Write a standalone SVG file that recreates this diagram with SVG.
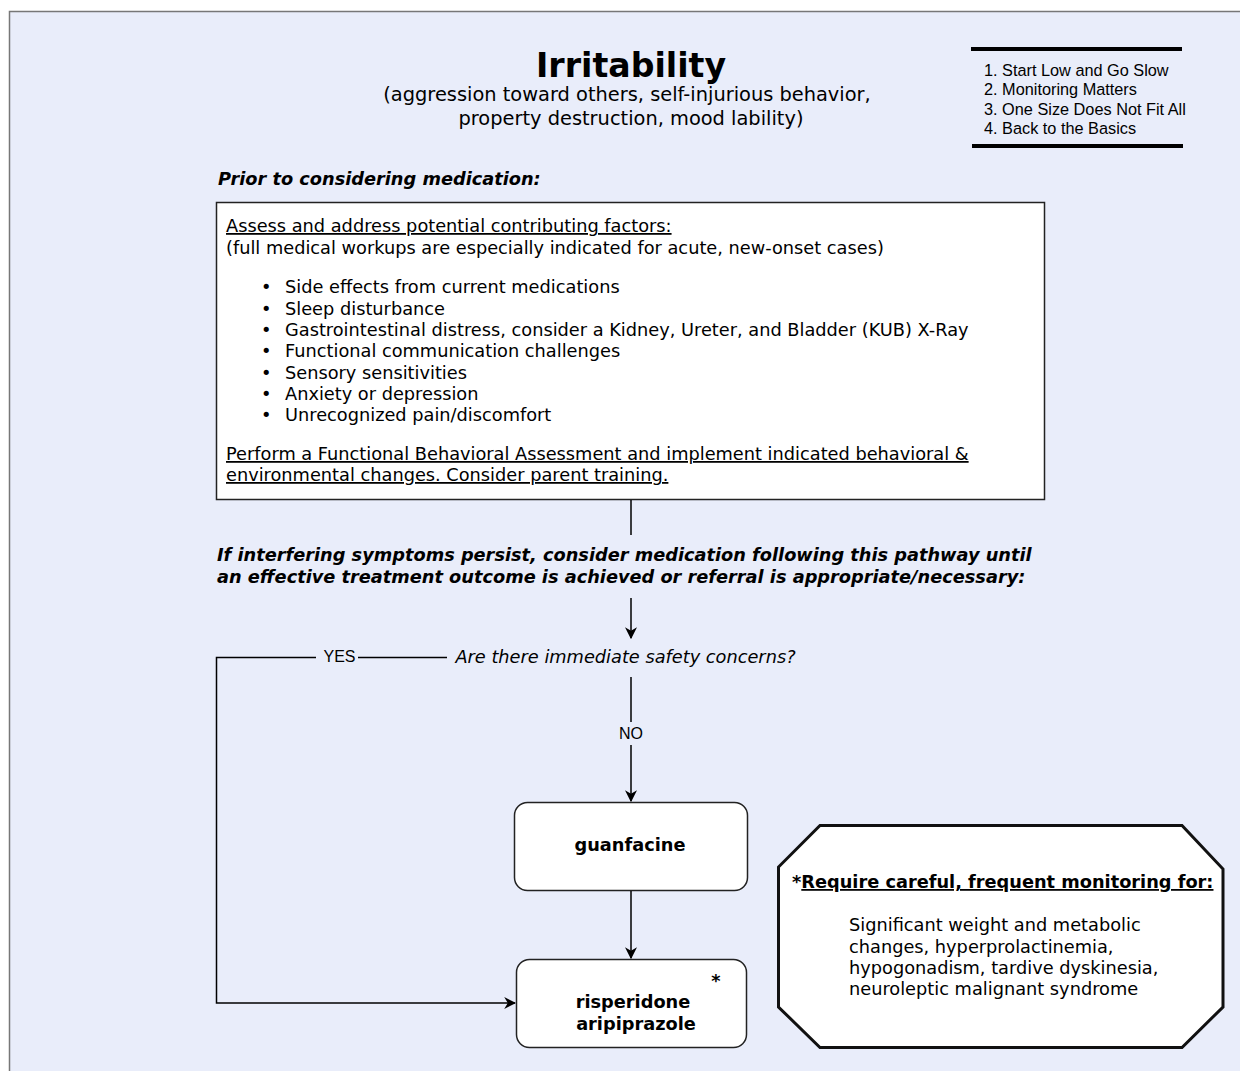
<svg xmlns="http://www.w3.org/2000/svg" width="1240" height="1071" viewBox="0 0 1240 1071">
<defs>
<style>
.v{font-family:"DejaVu Sans",Verdana,sans-serif;fill:#000;font-size:17.75px}
.a{font-family:"Liberation Sans",Arial,sans-serif;fill:#000}
.b{font-weight:bold}
.i{font-style:italic}
.u{text-decoration:underline}
.ln{fill:none;stroke:#000;stroke-width:1.5}
.box{fill:#fff;stroke:#222;stroke-width:1.5}
</style>
<marker id="ah" viewBox="0 0 10 10" refX="9" refY="5" markerWidth="12" markerHeight="12" markerUnits="userSpaceOnUse" orient="auto">
<path d="M0,0 L10,5 L0,10 L3,5 z" fill="#000"/>
</marker>
</defs>
<rect x="0" y="0" width="1240" height="1071" fill="#fff"/>
<rect x="9.5" y="11.5" width="1240" height="1070" fill="#E9EDFA" stroke="#777" stroke-width="1.5"/>

<g id="title">
<text class="v b" x="631" y="77" style="font-size:33.2px" text-anchor="middle">Irritability</text>
<text class="v" x="627" y="101" style="font-size:19.4px" text-anchor="middle">(aggression toward others, self-injurious behavior,</text>
<text class="v" x="631" y="125" style="font-size:19.4px" text-anchor="middle">property destruction, mood lability)</text>
</g>

<g id="principles">
<line x1="971" y1="49" x2="1182" y2="49" stroke="#000" stroke-width="4"/>
<line x1="972" y1="146" x2="1183" y2="146" stroke="#000" stroke-width="4"/>
<text class="a" x="984" y="76" font-size="16.3">1. Start Low and Go Slow</text>
<text class="a" x="984" y="95" font-size="16.3">2. Monitoring Matters</text>
<text class="a" x="984" y="115" font-size="16.3">3. One Size Does Not Fit All</text>
<text class="a" x="984" y="134" font-size="16.3">4. Back to the Basics</text>
</g>

<g id="prior">
<text class="v b i" x="218" y="185">Prior to considering medication:</text>
</g>

<g id="assess">
<rect class="box" x="216.5" y="202.5" width="828" height="297"/>
<text class="v u" x="226" y="232">Assess and address potential contributing factors:</text>
<text class="v" x="226" y="254">(full medical workups are especially indicated for acute, new-onset cases)</text>
<text class="v" x="261" y="293">•</text><text class="v" x="285" y="293">Side effects from current medications</text>
<text class="v" x="261" y="315">•</text><text class="v" x="285" y="315">Sleep disturbance</text>
<text class="v" x="261" y="336">•</text><text class="v" x="285" y="336">Gastrointestinal distress, consider a Kidney, Ureter, and Bladder (KUB) X-Ray</text>
<text class="v" x="261" y="357">•</text><text class="v" x="285" y="357">Functional communication challenges</text>
<text class="v" x="261" y="379">•</text><text class="v" x="285" y="379">Sensory sensitivities</text>
<text class="v" x="261" y="400">•</text><text class="v" x="285" y="400">Anxiety or depression</text>
<text class="v" x="261" y="421">•</text><text class="v" x="285" y="421">Unrecognized pain/discomfort</text>
<text class="v u" x="226" y="460">Perform a Functional Behavioral Assessment and implement indicated behavioral &amp;</text>
<text class="v u" x="226" y="481">environmental changes. Consider parent training.</text>
</g>

<g id="persist">
<text class="v b i" x="217" y="561">If interfering symptoms persist, consider medication following this pathway until</text>
<text class="v b i" x="217" y="583">an effective treatment outcome is achieved or referral is appropriate/necessary:</text>
</g>

<g id="question">
<text class="v i" x="625.5" y="663" text-anchor="middle">Are there immediate safety concerns?</text>
</g>

<g id="guanfacine">
<rect class="box" x="514.5" y="802.5" width="233" height="88" rx="13"/>
<text class="v b" x="630" y="851" text-anchor="middle">guanfacine</text>
</g>

<g id="antipsychotics">
<rect class="box" x="516.5" y="959.5" width="230" height="88" rx="13"/>
<text class="v b" x="716" y="987" text-anchor="middle">*</text>
<text class="v b" x="633" y="1008" text-anchor="middle">risperidone</text>
<text class="v b" x="636" y="1030" text-anchor="middle">aripiprazole</text>
</g>

<g id="monitoring">
<path d="M820,825.5 L1182,825.5 L1223,869 L1223,1007 L1182,1047.5 L820,1047.5 L778.5,1007 L778.5,867 Z" fill="#fff" stroke="#111" stroke-width="3"/>
<text class="v b" x="792" y="888">*<tspan class="u">Require careful, frequent monitoring for:</tspan></text>
<text class="v" x="849" y="931">Significant weight and metabolic</text>
<text class="v" x="849" y="953">changes, hyperprolactinemia,</text>
<text class="v" x="849" y="974">hypogonadism, tardive dyskinesia,</text>
<text class="v" x="849" y="995">neuroleptic malignant syndrome</text>
</g>

<g id="connectors">
<line class="ln" x1="631" y1="500" x2="631" y2="535"/>
<line class="ln" x1="631" y1="598" x2="631" y2="638" marker-end="url(#ah)"/>
<polyline class="ln" points="447,657.5 358,657.5"/>
<polyline class="ln" points="316,657.5 216.5,657.5 216.5,1003 515,1003" marker-end="url(#ah)"/>
<text class="a" x="339.5" y="662" font-size="16" text-anchor="middle">YES</text>
<line class="ln" x1="631" y1="677" x2="631" y2="722"/>
<text class="a" x="631" y="739" font-size="16" text-anchor="middle">NO</text>
<line class="ln" x1="631" y1="745" x2="631" y2="801" marker-end="url(#ah)"/>
<line class="ln" x1="631" y1="891" x2="631" y2="958" marker-end="url(#ah)"/>
</g>
</svg>
